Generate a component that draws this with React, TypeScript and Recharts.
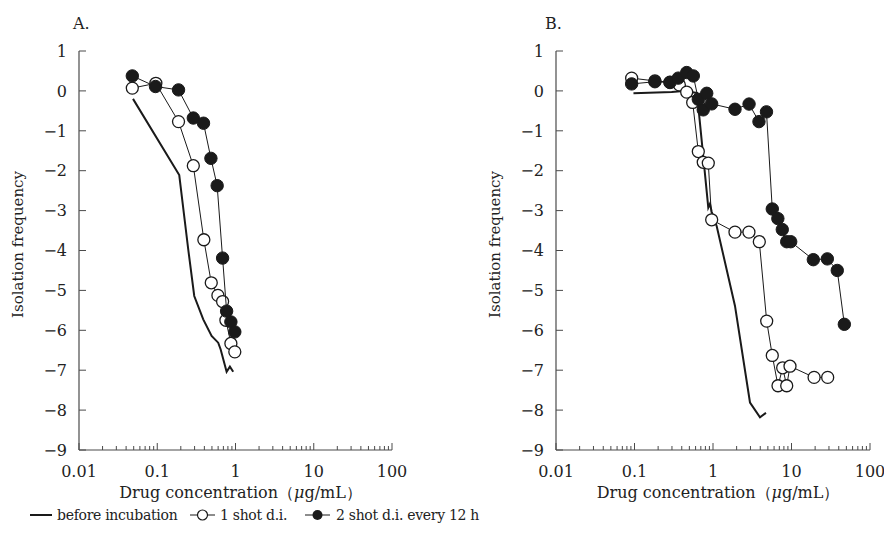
import React from 'react';
import { ScatterChart, Scatter, XAxis, YAxis } from 'recharts';

// ---------- data ----------
const majorTicks = [0.01, 0.1, 1, 10, 100];
const majorLabels = ['0.01', '0.1', '1', '10', '100'];
const yTicks = [1, 0, -1, -2, -3, -4, -5, -6, -7, -8, -9];

// Panel A
const aBeforeX = [0.049, 0.191, 0.249, 0.297, 0.387, 0.495, 0.601, 0.645, 0.77, 0.848, 0.935];
const aBeforeY = [-0.2, -2.11, -3.975, -5.14, -5.725, -6.14, -6.31, -6.475, -7.04, -6.91, -7.04];
const aOneX = [0.048, 0.096, 0.187, 0.289, 0.394, 0.49, 0.596, 0.684, 0.754, 0.873, 0.98];
const aOneY = [0.07, 0.19, -0.77, -1.875, -3.73, -4.81, -5.125, -5.28, -5.75, -6.33, -6.54];
const aTwoX = [0.048, 0.095, 0.187, 0.289, 0.39, 0.485, 0.583, 0.684, 0.77, 0.873, 0.98];
const aTwoY = [0.375, 0.11, 0.025, -0.68, -0.81, -1.69, -2.375, -4.19, -5.52, -5.79, -6.04];

// Panel B
const bBeforeX = [0.097, 0.298, 0.42, 0.625, 0.871, 0.915, 0.962, 1.115, 1.906, 2.96, 3.97, 4.73];
const bBeforeY = [-0.06, -0.03, 0.0, -0.05, -2.925, -2.83, -3.03, -3.39, -5.39, -7.81, -8.18, -8.07];
const bOneX = [0.092, 0.182, 0.283, 0.373, 0.462, 0.551, 0.65, 0.751, 0.871, 0.962, 1.906, 2.87, 3.89, 4.83, 5.69, 6.73, 7.72, 8.69, 9.57, 19.4, 28.9];
const bOneY = [0.32, 0.25, 0.22, 0.15, -0.03, -0.29, -1.52, -1.79, -1.81, -3.23, -3.54, -3.54, -3.78, -5.77, -6.63, -7.39, -6.94, -7.39, -6.9, -7.18, -7.18];
const bTwoX = [0.092, 0.182, 0.283, 0.361, 0.462, 0.561, 0.65, 0.751, 0.832, 0.962, 1.906, 2.88, 3.85, 4.8, 5.69, 6.7, 7.63, 8.69, 9.77, 18.97, 28.6, 38.3, 47.1];
const bTwoY = [0.175, 0.23, 0.21, 0.32, 0.46, 0.375, -0.21, -0.475, -0.06, -0.325, -0.46, -0.33, -0.77, -0.525, -2.96, -3.2, -3.475, -3.78, -3.78, -4.23, -4.21, -4.5, -5.85];

const seriesNames = ['before incubation', '1 shot d.i.', '2 shot d.i. every 12 h'];

// ---------- helpers ----------
const zip = (xs: number[], ys: number[]) => xs.map((x, i) => ({ x, y: ys[i] }));

const xTicks: number[] = [];
majorTicks.slice(0, -1).forEach((d) => {
  for (let m = 1; m <= 9; m++) xTicks.push(d * m);
});
xTicks.push(100);

const FONT = '"DejaVu Serif", serif';
const TXT = '#222';
const AX = '#4a4a4a';

const majorIndex = (v: number) =>
  majorTicks.findIndex((m) => Math.abs(Math.log10(v) - Math.log10(m)) < 1e-6);

const XTick = (props: any) => {
  const { x, y, payload } = props;
  const mi = majorIndex(payload.value);
  const major = mi >= 0;
  return (
    <g>
      <line x1={x} x2={x} y1={y} y2={y - (major ? 7 : 4)} stroke={AX} strokeWidth={1} />
      {major && (
        <text x={x} y={y + 27} textAnchor="middle" fontSize={16} fill={TXT} fontFamily={FONT}>
          {majorLabels[mi]}
        </text>
      )}
    </g>
  );
};

const YTick = (props: any) => {
  const { x, y, payload } = props;
  const v = payload.value;
  const label = v < 0 ? '\u2212' + Math.abs(v) : String(v);
  return (
    <g>
      <line x1={x} x2={x + 7} y1={y} y2={y} stroke={AX} strokeWidth={1} />
      <text x={x - 12} y={y} dy="0.36em" textAnchor="end" fontSize={16} fill={TXT} fontFamily={FONT}>
        {label}
      </text>
    </g>
  );
};

const YTitle = (props: any) => {
  const vb = props.viewBox || {};
  const cx = vb.x + 18;
  const cy = vb.y + vb.height / 2 - 6;
  return (
    <text
      x={cx}
      y={cy}
      transform={`rotate(-90 ${cx} ${cy})`}
      textAnchor="middle"
      dy="0.35em"
      fontSize={15}
      fill={TXT}
      fontFamily={FONT}
    >
      Isolation frequency
    </text>
  );
};

const XTitle = (props: any) => {
  const vb = props.viewBox || {};
  const cx = vb.x + vb.width / 2 + 5;
  const cy = vb.y + 48;
  return (
    <text x={cx} y={cy} textAnchor="middle" fontSize={16} fill={TXT} fontFamily={FONT}>
      Drug concentration（<tspan fontStyle="italic">μ</tspan>g/mL）
    </text>
  );
};

const OpenDot = (p: any) => (
  <circle cx={p.cx} cy={p.cy} r={6} fill="#fff" stroke="#1a1a1a" strokeWidth={1.3} />
);
const FilledDot = (p: any) => (
  <circle cx={p.cx} cy={p.cy} r={6.2} fill="#1a1a1a" stroke="#1a1a1a" strokeWidth={1} />
);
const NoDot = () => <g />;

type PanelProps = {
  before: { x: number; y: number }[];
  one: { x: number; y: number }[];
  two: { x: number; y: number }[];
  marginLeft: number;
  marginRight: number;
};

const Panel = ({ before, one, two, marginLeft, marginRight }: PanelProps) => (
  <ScatterChart
    width={442}
    height={548}
    margin={{ top: 51, right: marginRight, bottom: 68, left: marginLeft }}
  >
    <XAxis
      dataKey="x"
      type="number"
      scale="log"
      domain={[0.01, 100]}
      allowDataOverflow
      ticks={xTicks}
      interval={0}
      tickSize={0}
      tickMargin={0}
      tickLine={false}
      tick={<XTick />}
      axisLine={{ stroke: AX, strokeWidth: 1.2 }}
      height={30}
      label={<XTitle />}
    />
    <YAxis
      dataKey="y"
      type="number"
      domain={[-9, 1]}
      ticks={yTicks}
      interval={0}
      tickSize={0}
      tickMargin={0}
      tickLine={false}
      tick={<YTick />}
      axisLine={{ stroke: AX, strokeWidth: 1.2 }}
      width={79}
      label={<YTitle />}
    />
    <Scatter
      name={seriesNames[0]}
      data={before}
      line={{ stroke: '#1a1a1a', strokeWidth: 2 }}
      lineType="joint"
      shape={<NoDot />}
      isAnimationActive={false}
    />
    <Scatter
      name={seriesNames[1]}
      data={one}
      line={{ stroke: '#1a1a1a', strokeWidth: 1 }}
      lineType="joint"
      shape={<OpenDot />}
      isAnimationActive={false}
    />
    <Scatter
      name={seriesNames[2]}
      data={two}
      line={{ stroke: '#1a1a1a', strokeWidth: 1 }}
      lineType="joint"
      shape={<FilledDot />}
      isAnimationActive={false}
    />
  </ScatterChart>
);

const legendText: React.CSSProperties = {
  position: 'absolute',
  top: 505,
  fontSize: 14,
  letterSpacing: -0.3,
  fontFamily: FONT,
  color: TXT,
  lineHeight: '20px',
  whiteSpace: 'nowrap',
};

export default function App() {
  return (
    <div style={{ position: 'absolute', left: 0, top: 0, width: 884, height: 548, background: '#fff', overflow: 'hidden' }}>
      <div style={{ position: 'absolute', left: 0, top: 0 }}>
        <Panel before={zip(aBeforeX, aBeforeY)} one={zip(aOneX, aOneY)} two={zip(aTwoX, aTwoY)} marginLeft={0} marginRight={50} />
      </div>
      <div style={{ position: 'absolute', left: 442, top: 0 }}>
        <Panel before={zip(bBeforeX, bBeforeY)} one={zip(bOneX, bOneY)} two={zip(bTwoX, bTwoY)} marginLeft={35} marginRight={14} />
      </div>
      <div style={{ position: 'absolute', left: 73, top: 14, fontSize: 16, fontFamily: FONT, color: TXT }}>A.</div>
      <div style={{ position: 'absolute', left: 545, top: 14, fontSize: 16, fontFamily: FONT, color: TXT }}>B.</div>

      <svg style={{ position: 'absolute', left: 0, top: 500 }} width={884} height={30}>
        <line x1={30} x2={52} y1={15} y2={15} stroke="#1a1a1a" strokeWidth={2} />
        <line x1={190} x2={215} y1={15} y2={15} stroke="#1a1a1a" strokeWidth={1} />
        <circle cx={202.5} cy={15} r={5} fill="#fff" stroke="#1a1a1a" strokeWidth={1.2} />
        <line x1={305} x2={330} y1={15} y2={15} stroke="#1a1a1a" strokeWidth={1} />
        <circle cx={317.5} cy={15} r={5} fill="#1a1a1a" />
      </svg>
      <div style={{ ...legendText, left: 57 }}>{seriesNames[0]}</div>
      <div style={{ ...legendText, left: 220 }}>{seriesNames[1]}</div>
      <div style={{ ...legendText, left: 336 }}>{seriesNames[2]}</div>
    </div>
  );
}
